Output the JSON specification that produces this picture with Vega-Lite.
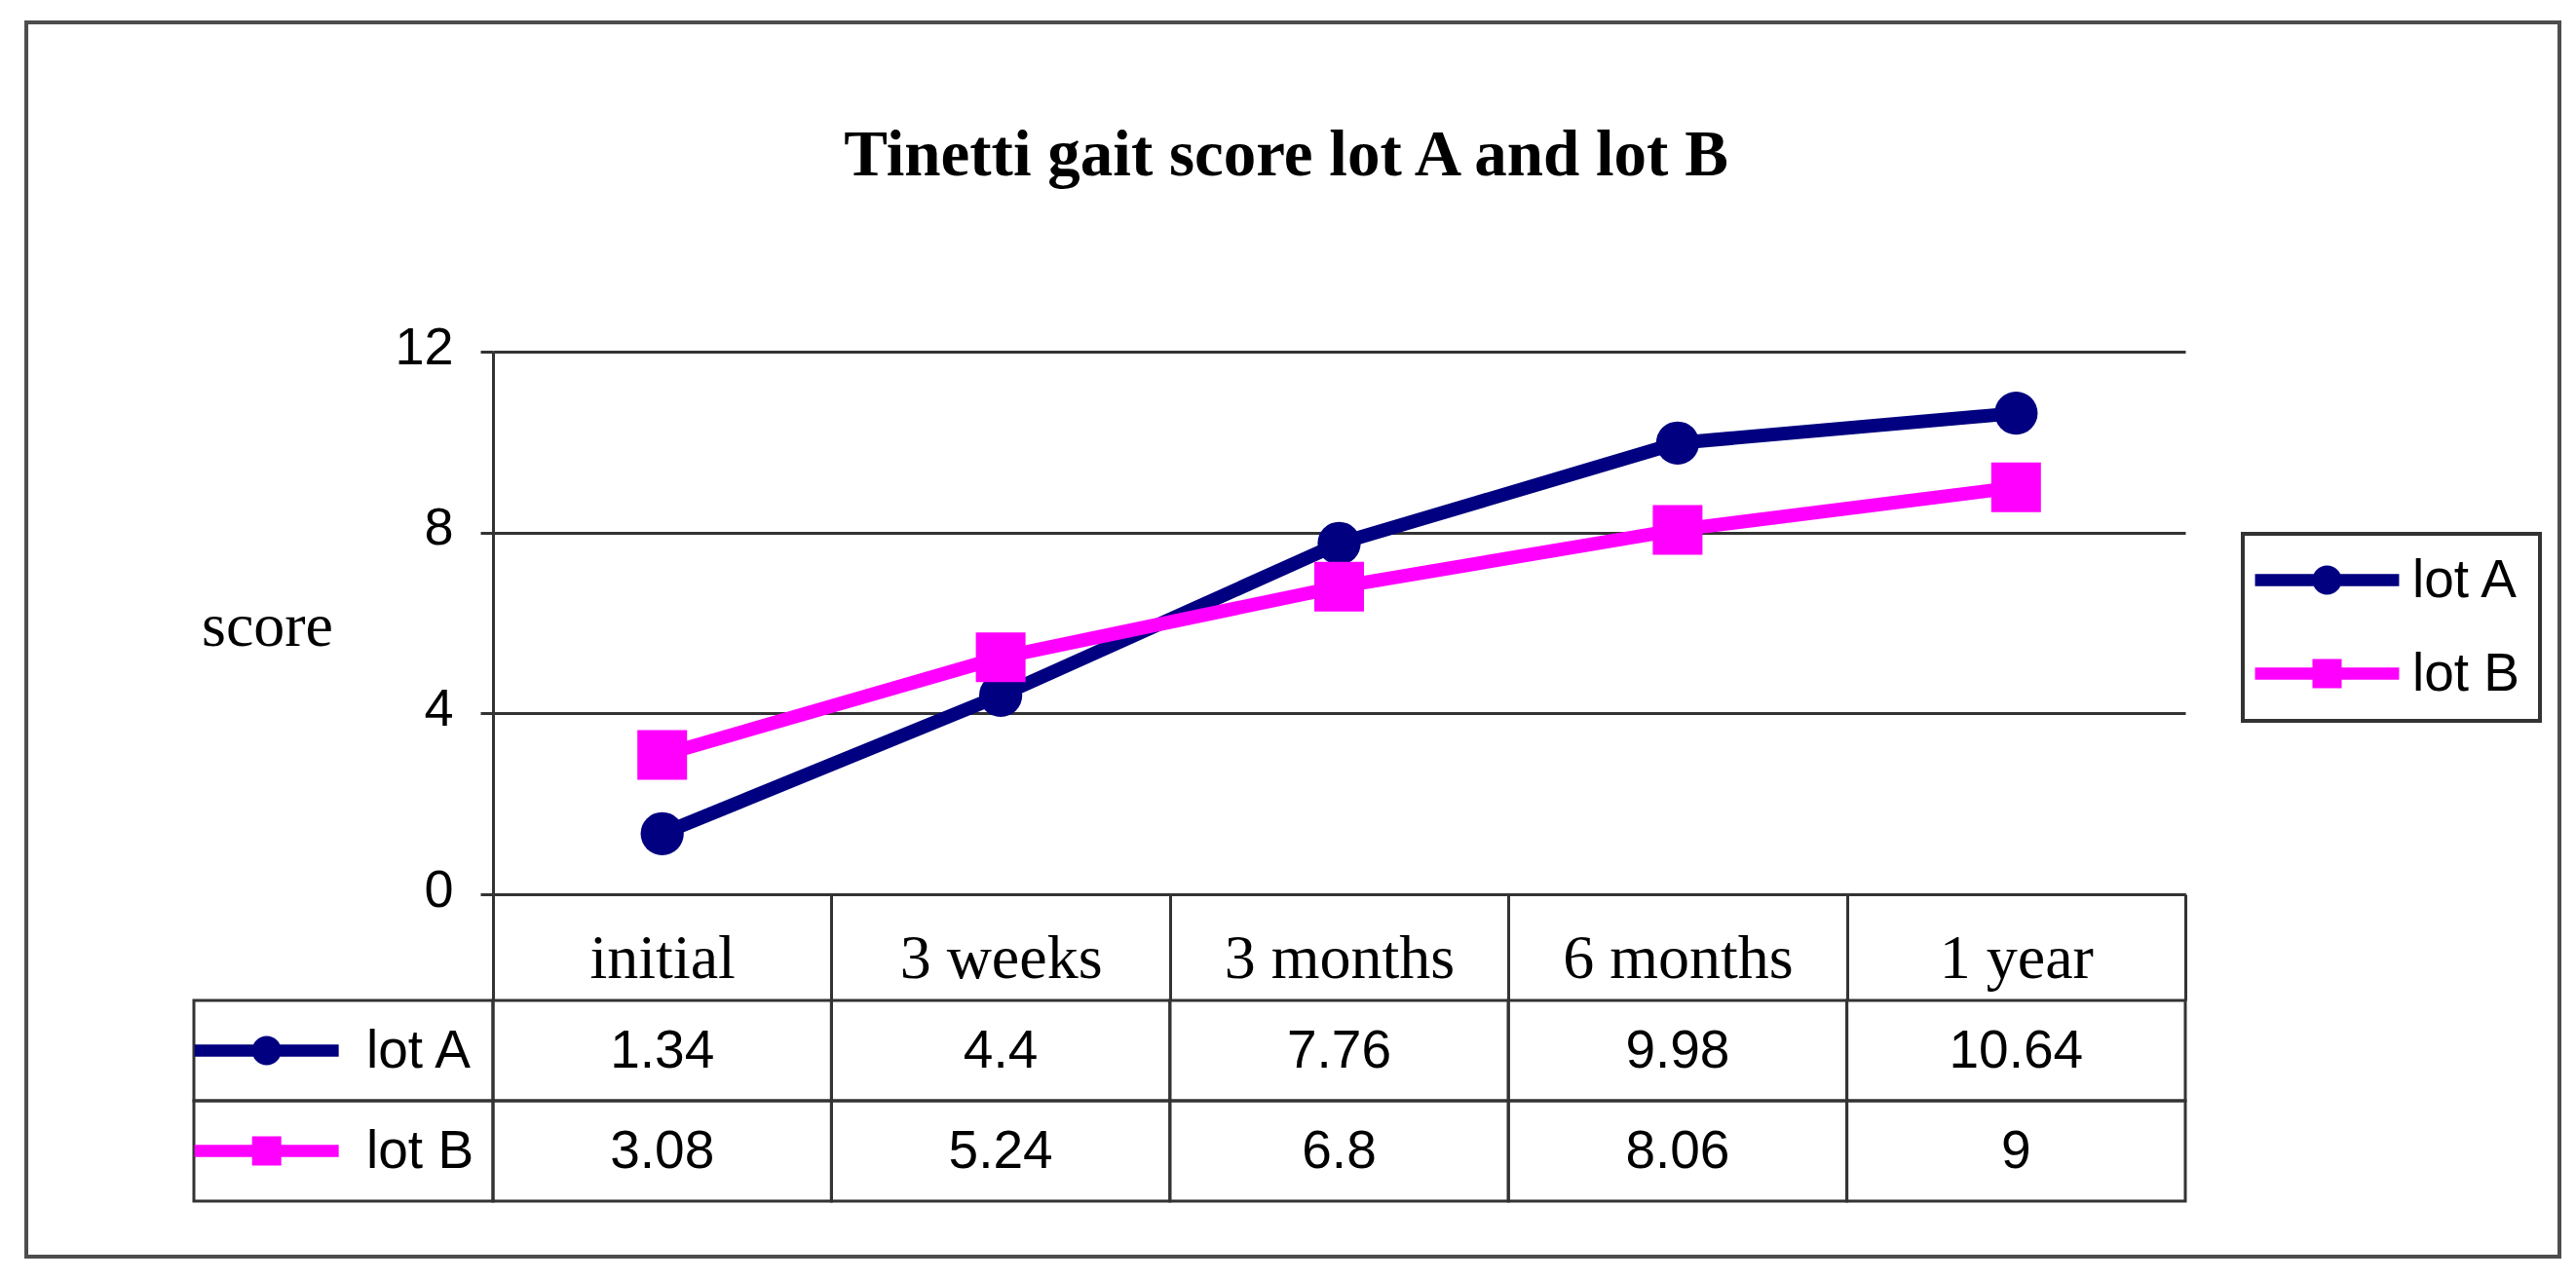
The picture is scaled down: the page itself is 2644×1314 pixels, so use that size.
{
  "$schema": "https://vega.github.io/schema/vega-lite/v6.json",
  "background": "white",
  "padding": {"left": 25, "top": 21, "right": 10, "bottom": 10},
  "title": {
    "text": "Tinetti gait score lot A and lot B",
    "font": "Liberation Serif",
    "fontSize": 67,
    "fontWeight": "bold",
    "color": "black",
    "anchor": "middle",
    "frame": "group",
    "dx": 1121,
    "offset": -173
  },
  "datasets": {
    "scores": [
      {"period": "initial", "lot": "lot A", "score": 1.34},
      {"period": "3 weeks", "lot": "lot A", "score": 4.4},
      {"period": "3 months", "lot": "lot A", "score": 7.76},
      {"period": "6 months", "lot": "lot A", "score": 9.98},
      {"period": "1 year", "lot": "lot A", "score": 10.64},
      {"period": "initial", "lot": "lot B", "score": 3.08},
      {"period": "3 weeks", "lot": "lot B", "score": 5.24},
      {"period": "3 months", "lot": "lot B", "score": 6.8},
      {"period": "6 months", "lot": "lot B", "score": 8.06},
      {"period": "1 year", "lot": "lot B", "score": 9}
    ],
    "lots": [{"lot": "lot A"}, {"lot": "lot B"}]
  },
  "columns": 2,
  "spacing": {"row": 109, "column": 0},
  "bounds": "flush",
  "resolve": {"scale": {"color": "independent", "shape": "independent", "x": "independent", "y": "independent"}},
  "concat": [
    {
      "width": 307,
      "height": 557,
      "data": {"name": "scores"},
      "transform": [{"filter": "false"}],
      "mark": "point",
      "encoding": {
        "color": {
          "field": "score",
          "type": "quantitative",
          "scale": {"domain": [0, 12], "range": ["rgba(255,255,255,0)", "rgba(255,255,255,0)"]},
          "legend": {
            "type": "gradient",
            "direction": "horizontal",
            "orient": "none",
            "legendX": -172,
            "legendY": -338,
            "gradientLength": 2600,
            "gradientThickness": 1267,
            "gradientStrokeWidth": 0,
            "values": [],
            "title": null,
            "padding": 0,
            "strokeColor": "#4d4d4d"
          }
        }
      }
    },
    {
      "width": 1737,
      "height": 557,
      "data": {"name": "scores"},
      "encoding": {
        "x": {
          "field": "period",
          "type": "nominal",
          "sort": ["initial", "3 weeks", "3 months", "6 months", "1 year"],
          "scale": {"type": "band", "paddingInner": 0, "paddingOuter": 0},
          "axis": {
            "orient": "bottom",
            "title": null,
            "domain": true,
            "domainColor": "#333333",
            "domainWidth": 3,
            "ticks": true,
            "tickBand": "extent",
            "tickSize": 109,
            "tickColor": "#333333",
            "tickWidth": 3,
            "grid": false,
            "labelAngle": 0,
            "labelFont": "Liberation Serif",
            "labelFontSize": 64,
            "labelColor": "black",
            "labelBaseline": "alphabetic",
            "labelPadding": -24,
            "labelLimit": 0,
            "labelOverlap": false
          }
        },
        "y": {
          "field": "score",
          "type": "quantitative",
          "scale": {"domain": [0, 12], "nice": false, "zero": true},
          "axis": {
            "orient": "left",
            "values": [0, 4, 8, 12],
            "title": "score",
            "titleAngle": 0,
            "titleFont": "Liberation Serif",
            "titleFontSize": 64,
            "titleFontWeight": "normal",
            "titleColor": "black",
            "titleX": -232,
            "titleY": 301,
            "titleAlign": "center",
            "titleBaseline": "alphabetic",
            "domain": true,
            "domainColor": "#333333",
            "domainWidth": 3,
            "grid": true,
            "gridColor": "#333333",
            "gridWidth": 3,
            "ticks": true,
            "tickSize": 13,
            "tickColor": "#333333",
            "tickWidth": 3,
            "labelFont": "Liberation Sans",
            "labelFontSize": 54,
            "labelColor": "black",
            "labelPadding": 28,
            "labelOffset": -4
          }
        }
      },
      "layer": [
        {
          "transform": [{"filter": "false"}],
          "mark": {"type": "point", "filled": true, "opacity": 1},
          "encoding": {
            "color": {
              "field": "lot",
              "type": "nominal",
              "scale": {"domain": ["lot A", "lot B"], "range": ["#000080", "#FF00FF"]},
              "legend": {
                "orient": "none", "legendX": 1796, "legendY": 187, "title": null,
                "strokeColor": "#333333", "fillColor": "white", "padding": 20,
                "symbolSize": 900, "symbolStrokeWidth": 0,
                "labelFont": "Liberation Sans", "labelFontSize": 55, "labelColor": "black",
                "labelOffset": 99, "labelLimit": 0, "rowPadding": 40
              }
            },
            "shape": {
              "field": "lot",
              "type": "nominal",
              "scale": {
                "domain": ["lot A", "lot B"],
                "range": [
                  "M-2.33,-0.42H7.53V0.42H-2.33Z M1.6,0A1,1 0 1,1 3.6,0A1,1 0 1,1 1.6,0Z",
                  "M-2.33,-0.42H7.53V0.42H-2.33Z M1.6,-1H3.6V1H1.6Z"
                ]
              },
              "legend": {
                "orient": "none", "legendX": 1796, "legendY": 187, "title": null,
                "strokeColor": "#333333", "fillColor": "white", "padding": 20,
                "symbolSize": 900, "symbolStrokeWidth": 0,
                "labelFont": "Liberation Sans", "labelFontSize": 55, "labelColor": "black",
                "labelOffset": 99, "labelLimit": 0, "rowPadding": 40
              }
            }
          }
        },
        {
          "mark": {"type": "line", "strokeWidth": 14},
          "encoding": {"color": {"field": "lot", "type": "nominal", "legend": null}}
        },
        {
          "transform": [{"filter": "datum.lot === 'lot A'"}],
          "mark": {"type": "point", "shape": "circle", "filled": true, "size": 1960, "opacity": 1},
          "encoding": {"color": {"field": "lot", "type": "nominal", "legend": null}}
        },
        {
          "transform": [{"filter": "datum.lot === 'lot B'"}],
          "mark": {"type": "point", "shape": "square", "filled": true, "size": 2600, "opacity": 1},
          "encoding": {"color": {"field": "lot", "type": "nominal", "legend": null}}
        }
      ]
    },
    {
      "width": 307,
      "height": 206,
      "data": {"name": "lots"},
      "encoding": {
        "y": {"field": "lot", "type": "nominal", "axis": null, "scale": {"paddingInner": 0, "paddingOuter": 0}}
      },
      "layer": [
        {"mark": {"type": "rect", "filled": false, "stroke": "#333333", "strokeWidth": 3}},
        {
          "mark": {"type": "point", "filled": true, "size": 900, "opacity": 1, "strokeWidth": 0},
          "encoding": {
            "x": {
              "datum": "symbol",
              "type": "nominal",
              "scale": {"type": "point", "domain": ["symbol", "label"], "padding": 1.494, "align": 0.365},
              "axis": null
            },
            "shape": {
              "field": "lot",
              "type": "nominal",
              "scale": {
                "domain": ["lot A", "lot B"],
                "range": [
                  "M-4.93,-0.42H4.93V0.42H-4.93Z M-1,0A1,1 0 1,1 1,0A1,1 0 1,1 -1,0Z",
                  "M-4.93,-0.42H4.93V0.42H-4.93Z M-1,-1H1V1H-1Z"
                ]
              },
              "legend": null
            },
            "color": {
              "field": "lot",
              "type": "nominal",
              "scale": {"domain": ["lot A", "lot B"], "range": ["#000080", "#FF00FF"]},
              "legend": null
            }
          }
        },
        {
          "mark": {"type": "text", "align": "left", "baseline": "middle", "font": "Liberation Sans", "fontSize": 55, "color": "black"},
          "encoding": {
            "x": {"datum": "label", "type": "nominal"},
            "text": {"field": "lot", "type": "nominal"}
          }
        }
      ]
    },
    {
      "width": 1737,
      "height": 206,
      "data": {"name": "scores"},
      "encoding": {
        "x": {
          "field": "period",
          "type": "nominal",
          "sort": ["initial", "3 weeks", "3 months", "6 months", "1 year"],
          "scale": {"type": "band", "paddingInner": 0, "paddingOuter": 0},
          "axis": null
        },
        "y": {"field": "lot", "type": "nominal", "axis": null, "scale": {"paddingInner": 0, "paddingOuter": 0}}
      },
      "layer": [
        {"mark": {"type": "rect", "filled": false, "stroke": "#333333", "strokeWidth": 3}},
        {
          "mark": {"type": "text", "baseline": "middle", "font": "Liberation Sans", "fontSize": 55, "color": "black"},
          "encoding": {"text": {"field": "score", "type": "nominal"}}
        }
      ]
    }
  ],
  "config": {
    "view": {"stroke": null},
    "legend": {"strokeWidth": 4}
  }
}
